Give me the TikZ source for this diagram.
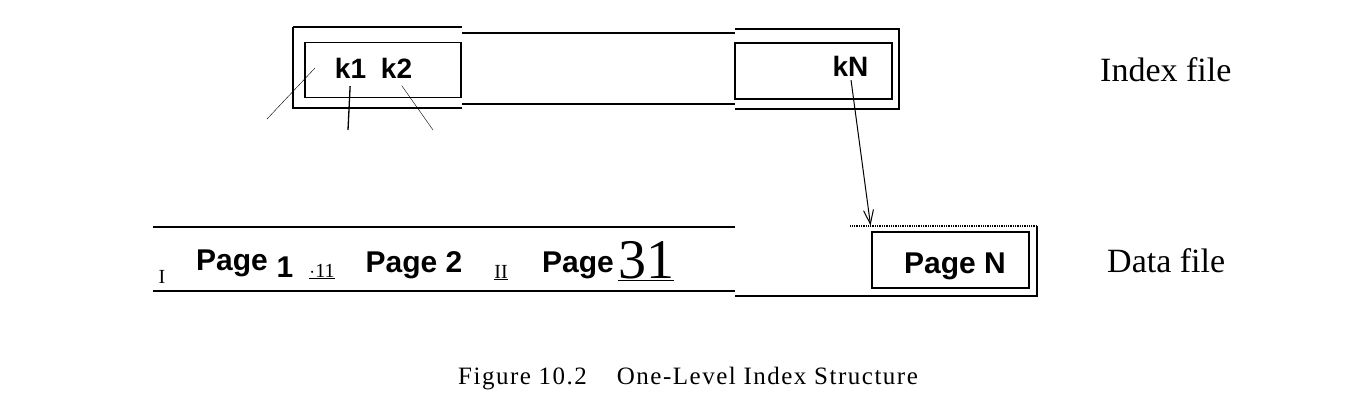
\documentclass[tikz,border=0pt]{standalone}
\usepackage{fontspec}
\usepackage{xcolor}
\usepackage{tikz}
\usetikzlibrary{positioning,arrows.meta}
\setmainfont{Liberation Serif}
\setsansfont{Liberation Sans}
\newfontfamily\capfont[LetterSpace=6]{Liberation Serif}

\tikzset{
  keybox/.style={draw, line width=1.3pt, rectangle, minimum width=156pt, minimum height=55pt, inner sep=0pt},
  keytext/.style={inner sep=0pt, anchor=base, font=\fontsize{28}{30}\selectfont\sffamily\bfseries},
  pagetext/.style={inner sep=0pt, anchor=base, font=\fontsize{30}{32}\selectfont\sffamily\bfseries},
  marktext/.style={inner sep=0pt, anchor=base, font=\fontsize{20}{22}\selectfont},
  sidelabel/.style={inner sep=0pt, anchor=base west, font=\fontsize{34}{36}\selectfont},
  frame/.style={line width=1.3pt},
  rail/.style={line width=2.5pt},
}

\begin{document}
\begin{tikzpicture}[x=1pt, y=-1pt, node distance=16pt]
    \useasboundingbox (0,0) rectangle (1356,408);

    % Index file
    \node (idxA) [keybox] at (383,70) {};
    \node (idxN) [keybox, minimum width=157pt, minimum height=56pt] at (813.5,71) {};
    \node (k1) [keytext] at (350.5,78) {k1};
    \node (k2) [keytext] at (396.5,78) {k2};
    \node (kN) [keytext] at (850.5,76) {kN};
    \draw[line width=2.5pt] (293,27) -- (462,27);
    \draw[frame] (293,27) -- (293,108) -- (462,108);
    \draw[rail] (462,33) -- (735,33);
    \draw[rail] (462,104) -- (735,104);
    \draw[frame] (735,29) -- (899,29) -- (899,109) -- (735,109);

    % Pointers
    \coordinate (p0) at (315,68);
    \coordinate (p0end) at (267,119);
    \coordinate (p1end) at (348,130);
    \coordinate (p2end) at (433,130);
    \draw[thin] (p0) -- (p0end);
    \draw[line width=1.3pt, shorten <=8pt] (k1.south) -- (p1end);
    \draw[thin, shorten <=9pt] (k2.south) -- (p2end);

    % Data file
    \draw[rail] (153,227) -- (735,227);
    \draw[rail] (153,291) -- (735,291);
    \draw[frame] (735,296) -- (1037,296) -- (1037,226);
    \draw[densely dotted, line width=1.3pt] (1037,226) -- (850,226);
    \node (pgNbox) [keybox, minimum width=157pt, minimum height=56pt] at (950.5,260) {};
    \node (pgN) [pagetext] at (955,273) {Page N};
    \node (mkI) [marktext] at (162,283) {I};
    \node (pg1) [pagetext] at (232,270) {Page};
    \node (pg1num) [pagetext] at (285,277) {1};
    \node (mk11) [marktext] at (322,277) {\underline{$\cdot$11}};
    \node (pg2) [pagetext] at (414,272) {Page 2};
    \node (mkII) [marktext] at (501,278) {\underline{II}};
    \node (pg3) [pagetext] at (578,272) {Page};
    \node (pg3num) [inner sep=0pt, anchor=base, font=\fontsize{56}{58}\selectfont] at (646,278) {\underline{31}};

    % Arrows
    \draw[line width=1pt, -{Straight Barb[length=14pt, width=10pt]}, shorten <=4pt, shorten >=6pt]
        (kN.south) -- (pgNbox.north west);

    % Labels
    \node (idxlabel) [sidelabel] at (1100,81) {Index file};
    \node (datalabel) [sidelabel] at (1107,272) {Data file};
    \node (caption) [inner sep=0pt, anchor=base, font=\fontsize{25}{27}\capfont] at (688,384)
        {Figure 10.2\hspace{1.2em}One-Level Index Structure};
\end{tikzpicture}
\end{document}
